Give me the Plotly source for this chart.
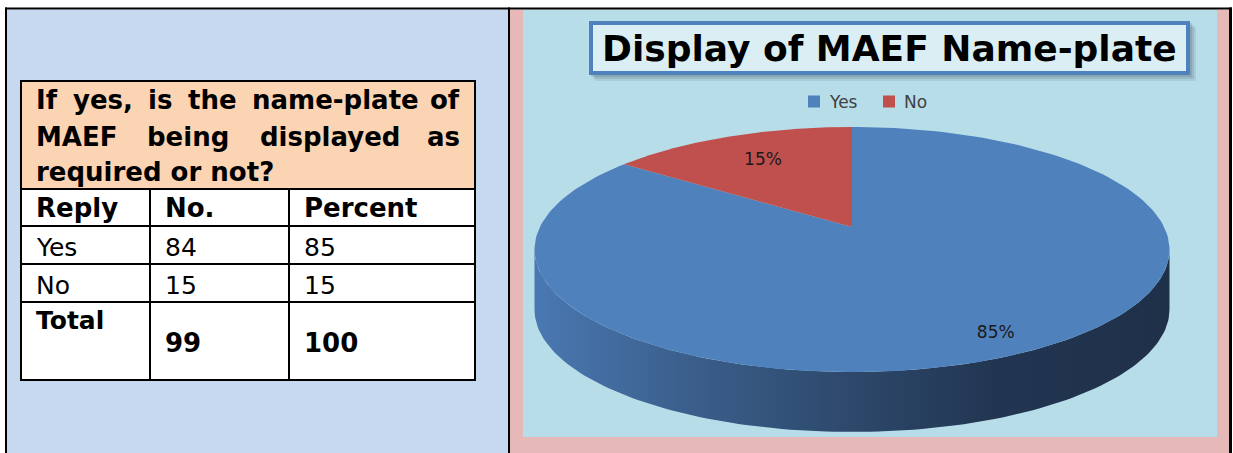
import math
import plotly.graph_objects as go

# ---------------- data ----------------
TABLE_TITLE_LINES = ["If yes, is the name-plate of", "MAEF being displayed as", "required or not?"]
HEADERS = ["Reply", "No.", "Percent"]
REPLIES = ["Yes", "No"]
COUNTS = [84, 15]
PERCENTS = [85, 15]
TOTAL_LABEL = "Total"
TOTAL_COUNT = 99
TOTAL_PERCENT = 100

CHART_TITLE = "Display of MAEF Name-plate"
PIE_LABELS = ["Yes", "No"]
PIE_VALUES = [85, 15]
PIE_COLORS = ["#4F81BD", "#C0504D"]

# ---------------- layout constants ----------------
W, H = 1233, 453
FONT = "DejaVu Sans"

# table geometry (pixels)
T_L, T_R = 21, 475
COL_X = [21, 150, 289, 475]
ROW_Y = [81, 189, 226, 264, 302, 380]
PAD = 13

# pie geometry (perspective projection of a unit circle)
CX, CY = 852, 227
A_Y, B_X, K = 118.4, 312.1, 0.1837
DEPTH = 60
LABEL_R = [0.87, 0.70]


def proj(theta_deg, r=1.0, dz=0.0):
    t = math.radians(theta_deg)
    u, v = r * math.cos(t), r * math.sin(t)
    d = 1 + K * v
    return CX + B_X * u / d, CY - A_Y * v / d + dz


def arc(a0, a1, n=120, dz=0.0):
    xs, ys = [], []
    for i in range(n + 1):
        a = a0 + (a1 - a0) * i / n
        x, y = proj(a, 1.0, dz)
        xs.append(x)
        ys.append(y)
    return xs, ys


# DejaVu Sans Bold advance widths (em) for justification
BW = {"I": .372, "f": .435, "y": .652, "e": .678, "s": .595, ",": .380, "i": .343,
      "t": .478, "h": .712, "n": .712, "a": .675, "m": 1.042, "-": .415, "p": .716,
      "l": .343, "o": .687, "M": .995, "A": .774, "E": .683, "F": .683, "b": .716,
      "g": .716, "d": .716, "r": .493, "q": .716, "u": .712, "?": .580}


def tw(s, size):
    return sum(BW.get(c, 0.65) for c in s) * size


fig = go.Figure()
shapes = []
ann = []

def rect(x0, y0, x1, y1, fill, line_color=None, lw=0, layer="below"):
    shapes.append(dict(type="rect", xref="x", yref="y", x0=x0, y0=y0, x1=x1, y1=y1,
                       fillcolor=fill, line=dict(color=line_color or fill, width=lw), layer=layer))

def hline(x0, x1, y, lw=2, color="black"):
    shapes.append(dict(type="line", xref="x", yref="y", x0=x0, x1=x1, y0=y, y1=y,
                       line=dict(color=color, width=lw), layer="below"))

def vline(x, y0, y1, lw=2, color="black"):
    shapes.append(dict(type="line", xref="x", yref="y", x0=x, x1=x, y0=y0, y1=y1,
                       line=dict(color=color, width=lw), layer="below"))

def text(x, y, s, size, bold=False, anchor="left", color="black"):
    ann.append(dict(x=x, y=y, xref="x", yref="y", text=f"<b>{s}</b>" if bold else s,
                    showarrow=False, xanchor=anchor, yanchor="middle",
                    font=dict(family=FONT, size=size, color=color)))

# ---------------- backgrounds / borders ----------------
rect(7, 9.5, 508, H, "#C6D9F1")            # left panel
rect(510, 9.5, 1229, H, "#E6B9B8")         # pink frame
rect(523, 9.5, 1217, 437, "#B7DDE8")       # chart area
rect(5, 7.5, 1232, 9.6, "black")           # top border
rect(5, 7.5, 7, H, "black")                # left border
rect(508, 7.5, 510, H, "black")            # divider
rect(1229, 7.5, 1232, H, "black")          # right border

# ---------------- table ----------------
rect(T_L, ROW_Y[0], T_R, ROW_Y[1], "#FBD4B4")
rect(T_L, ROW_Y[1], T_R, ROW_Y[-1], "white")
for y in ROW_Y:
    hline(T_L - 1, T_R + 1, y)
vline(T_L, ROW_Y[0], ROW_Y[-1])
vline(T_R, ROW_Y[0], ROW_Y[-1])
for x in COL_X[1:-1]:
    vline(x, ROW_Y[1], ROW_Y[-1])

# justified title
TS = 26
title_y = [100, 137, 172]
tl, tr = T_L + PAD, T_R - PAD
for li, line in enumerate(TABLE_TITLE_LINES):
    words = line.split()
    if li == len(TABLE_TITLE_LINES) - 1:
        text(tl, title_y[li], line, TS, bold=True)
        continue
    widths = [tw(w_, TS) for w_ in words]
    gap = (tr - tl - sum(widths)) / (len(words) - 1)
    x = tl
    for wi, (w_, wd) in enumerate(zip(words, widths)):
        if wi == len(words) - 1:
            text(tr, title_y[li], w_, TS, bold=True, anchor="right")
        else:
            text(x, title_y[li], w_, TS, bold=True)
        x += wd + gap

# header
for ci, h in enumerate(HEADERS):
    text(COL_X[ci] + PAD, 208, h, 26, bold=True)
# body rows
row_cy = [247, 285]
for ri, (rep, cnt, pct) in enumerate(zip(REPLIES, COUNTS, PERCENTS)):
    for ci, v in enumerate([rep, cnt, pct]):
        text(COL_X[ci] + PAD, row_cy[ri], str(v), 25)
# total row
text(COL_X[0] + PAD, 320, TOTAL_LABEL, 25, bold=True)
text(COL_X[1] + PAD, 343, str(TOTAL_COUNT), 26, bold=True)
text(COL_X[2] + PAD, 343, str(TOTAL_PERCENT), 26, bold=True)

# ---------------- chart title box ----------------
for i, op in enumerate([0.10, 0.12, 0.15]):
    off = 6 - 2 * i
    rect(589 + off, 21 + off, 1190 + off, 75 + off, f"rgba(40,60,80,{op})")
rect(591, 23, 1188, 73, "#DBEEF4", "#4F81BD", 4)
text(889.5, 48, CHART_TITLE, 36, bold=True, anchor="center")

# ---------------- legend ----------------
LEG_X = [814, 889]
fig.add_trace(go.Scatter(x=LEG_X, y=[101.5] * 2, mode="markers",
                         marker=dict(symbol="square", size=12, color=PIE_COLORS, line=dict(width=0)),
                         hoverinfo="skip", showlegend=False))
for lx, lab in zip(LEG_X, PIE_LABELS):
    text(lx + 13, 101.5, lab, 17, color="#404040")

# ---------------- 3D-look pie ----------------
total = sum(PIE_VALUES)
starts, ends = [], []
a = 90.0
for v in PIE_VALUES:
    span = 360.0 * v / total
    starts.append(a)
    ends.append(a - span)          # clockwise
    a -= span

# visible front side (between silhouettes)
sil = math.degrees(math.asin(K))
front0, front1 = 180 + sil, 360 - sil
for i in range(len(PIE_VALUES)):
    lo, hi = ends[i], starts[i]
    for shift in (-720, -360, 0, 360):
        f0, f1 = front0 + shift, front1 + shift
        s0, s1 = max(lo, f0), min(hi, f1)
        if s1 > s0:
            tx, ty = arc(s0, s1)
            bx, by = arc(s1, s0, dz=DEPTH)
            fig.add_trace(go.Scatter(
                x=tx + bx + [tx[0]], y=ty + by + [ty[0]], mode="lines",
                line=dict(width=0), fill="toself", fillcolor="#2c4668",
                fillgradient=dict(type="horizontal",
                                  colorscale=[[0, "#4a78b2"], [0.25, "#3a5e8a"], [0.5, "#2d486b"],
                                              [0.72, "#223652"], [1, "#1f3049"]],
                                  start=proj(front0)[0], stop=proj(front1)[0]),
                hoverinfo="skip", showlegend=False))

# top faces
for i in range(len(PIE_VALUES)):
    xs, ys = arc(starts[i], ends[i], n=200)
    fig.add_trace(go.Scatter(x=[CX] + xs + [CX], y=[CY] + ys + [CY], mode="lines",
                             line=dict(width=0), fill="toself", fillcolor=PIE_COLORS[i],
                             hoverinfo="skip", showlegend=False, name=PIE_LABELS[i]))

# data labels
lx, ly, lt = [], [], []
for i, v in enumerate(PIE_VALUES):
    mid = (starts[i] + ends[i]) / 2
    x, y = proj(mid, LABEL_R[i])
    lx.append(x)
    ly.append(y)
    lt.append(f"{100 * v / total:.0f}%")
fig.add_trace(go.Scatter(x=lx, y=ly, mode="text", text=lt,
                         textfont=dict(family=FONT, size=17, color="#1a1a1a"),
                         hoverinfo="skip", showlegend=False))

fig.update_layout(
    width=W, height=H, margin=dict(l=0, r=0, t=0, b=0),
    paper_bgcolor="white", plot_bgcolor="white",
    xaxis=dict(range=[0, W], visible=False, fixedrange=True),
    yaxis=dict(range=[H, 0], visible=False, fixedrange=True),
    shapes=shapes, annotations=ann, showlegend=False,
)
fig.write_html("out.html", config={"displayModeBar": False},
               post_script="document.body.style.margin='0';document.body.style.overflow='hidden';")
